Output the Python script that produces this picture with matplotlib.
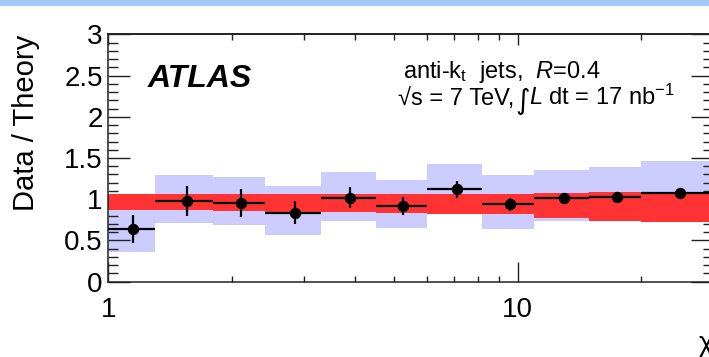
import numpy as np
import matplotlib
matplotlib.use('Agg')
import matplotlib.pyplot as plt
from matplotlib.patches import Rectangle
from matplotlib.ticker import FixedLocator, MultipleLocator, NullFormatter, FuncFormatter

plt.rcParams['font.family'] = ['Liberation Sans', 'DejaVu Sans']
plt.rcParams['mathtext.fontset'] = 'custom'
plt.rcParams['mathtext.rm'] = 'Liberation Sans'
plt.rcParams['mathtext.it'] = 'Liberation Sans:italic'
plt.rcParams['mathtext.bf'] = 'Liberation Sans:bold'

# chi bins and measured data/theory ratio
bin_edges = [1.0, 1.30, 1.80, 2.41, 3.30, 4.50, 6.02, 8.19, 10.98, 14.96, 20.0, 30.0]
chi = [1.15, 1.553, 2.104, 2.855, 3.89, 5.25, 7.1, 9.56, 12.99, 17.5, 24.9]
ratio = [0.640, 0.982, 0.952, 0.837, 1.019, 0.921, 1.12, 0.938, 1.019, 1.023, 1.075]
ratio_err = [0.168, 0.18, 0.173, 0.14, 0.13, 0.11, 0.10, 0.077, 0.045, 0.04, 0.035]

# wide (blue) systematic band
sys_lo = [0.364, 0.716, 0.684, 0.566, 0.736, 0.655, 0.85, 0.643, 0.732, 0.76, 0.76]
sys_hi = [1.00, 1.294, 1.27, 1.16, 1.33, 1.229, 1.427, 1.294, 1.358, 1.394, 1.46]

# theory (red) band
theo_lo = [0.872, 0.872, 0.861, 0.85, 0.841, 0.833, 0.821, 0.817, 0.776, 0.74, 0.728]
theo_hi = [1.06, 1.06, 1.06, 1.06, 1.06, 1.06, 1.06, 1.063, 1.072, 1.084, 1.091]

W, H = 709, 357
fig = plt.figure(figsize=(W / 100, H / 100), dpi=100)
fig.patches.append(Rectangle((0, 1 - 6 / H), 1, 6 / H, transform=fig.transFigure,
                             facecolor='#a3c9f7', edgecolor='none'))

ax = fig.add_axes([108.4 / W, (H - 281.7) / H, (713 - 108.4) / W, 247.4 / H])

lefts = np.array(bin_edges[:-1])
widths = np.diff(bin_edges)
ax.bar(lefts, np.array(sys_hi) - np.array(sys_lo), width=widths, bottom=sys_lo,
       align='edge', color='#ccccff', linewidth=0, zorder=1)
ax.bar(lefts, np.array(theo_hi) - np.array(theo_lo), width=widths, bottom=theo_lo,
       align='edge', color='#ff3333', linewidth=0, zorder=2)

xerr = [np.array(chi) - lefts, np.array(bin_edges[1:]) - np.array(chi)]
ax.errorbar(chi, ratio, yerr=ratio_err, xerr=xerr, fmt='o', color='black',
            markersize=7.2, elinewidth=1.6, capsize=0, zorder=3)

ax.set_xscale('log')
ax.set_xlim(1, 30)
ax.set_ylim(0, 3)

ax.xaxis.set_major_locator(FixedLocator([1, 10]))
ax.xaxis.set_major_formatter(FuncFormatter(lambda v, p: f'{v:g}'))
ax.xaxis.set_minor_locator(FixedLocator([2, 3, 4, 5, 6, 7, 8, 9, 20, 30]))
ax.xaxis.set_minor_formatter(NullFormatter())
ax.yaxis.set_major_locator(MultipleLocator(0.5))
ax.yaxis.set_major_formatter(FuncFormatter(lambda v, p: f'{v:g}'))
ax.yaxis.set_minor_locator(MultipleLocator(0.1))

ax.tick_params(which='both', direction='in', labelsize=20, width=1, color='#222222')
ax.tick_params(axis='x', which='major', length=14.4, pad=11, top=False)
ax.tick_params(axis='x', which='minor', length=4.3, top=False)
ax.tick_params(axis='y', which='major', length=15.8, pad=4, right=True)
ax.tick_params(axis='y', which='minor', length=7.2, right=True)
for s in ax.spines.values():
    s.set_linewidth(1.1)
    s.set_color('#222222')

top = ax.secondary_xaxis('top')
top.xaxis.set_major_locator(FixedLocator([1, 10]))
top.xaxis.set_minor_locator(FixedLocator([2, 3, 4, 5, 6, 7, 8, 9, 20, 30]))
top.xaxis.set_major_formatter(NullFormatter())
top.xaxis.set_minor_formatter(NullFormatter())
top.tick_params(which='major', direction='in', length=8, width=1, color='#222222')
top.tick_params(which='minor', direction='in', length=4.3, width=1, color='#222222')
top.spines['top'].set_linewidth(1.1)

ax.set_ylabel('Data / Theory', fontsize=21, loc='top')
ax.yaxis.set_label_coords(-0.113, 1.0)
ax.set_xlabel('χ', fontsize=20, loc='right')
ax.xaxis.set_label_coords(1.0, -0.2)

ax.text(0.0655, 0.787, 'ATLAS', fontsize=23, fontweight='bold', fontstyle='italic',
        transform=ax.transAxes, va='baseline')
ax.text(0.487, 0.8246, r'anti-k$_{\mathrm{t}}$  jets,  $R$=0.4', fontsize=17,
        transform=ax.transAxes, va='baseline')
ax.text((398 - 108.4) / 604.6, 0.714, '√s = 7 TeV,', fontsize=17,
        transform=ax.transAxes, va='baseline')
ax.text((515 - 108.4) / 604.6, 0.700, '∫', fontsize=20, family='DejaVu Sans',
        transform=ax.transAxes, va='baseline')
ax.text((529 - 108.4) / 604.6, 0.714, r'$L$ dt = 17 nb$^{\mathrm{-1}}$', fontsize=17,
        transform=ax.transAxes, va='baseline')

fig.savefig('out.png', dpi=100)
